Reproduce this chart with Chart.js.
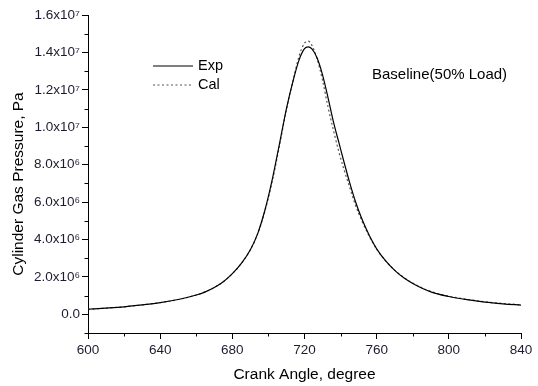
<!DOCTYPE html>
<html>
<head>
<meta charset="utf-8">
<script src="https://cdn.jsdelivr.net/npm/chart.js@4"></script>
<style>
html,body{margin:0;padding:0;background:#fff;}
canvas{display:block;}
</style>
</head>
<body>
<canvas id="c" width="538" height="386"></canvas>
<script>
// Crank angle (degree)
const angles = [600,610,620,630,640,650,660,665,670,675,680,685,690,694,698,702,706,710,714,717,720,722,724,727,730,733,736,739,742,745,748,752,756,760,765,770,775,780,790,800,810,820,830,840];
// Cylinder gas pressure, in MPa (converted to Pa below)
const expPressureMPa = [0.27,0.33,0.40,0.50,0.62,0.79,1.03,1.20,1.43,1.74,2.17,2.72,3.45,4.30,5.55,7.15,9.05,11.00,12.60,13.60,14.20,14.30,14.20,13.70,12.80,11.60,10.30,9.20,8.10,7.05,6.10,5.05,4.20,3.50,2.85,2.35,1.95,1.65,1.20,0.95,0.78,0.65,0.56,0.49];
const calPressureMPa = [0.27,0.33,0.40,0.50,0.62,0.79,1.03,1.20,1.43,1.74,2.17,2.72,3.45,4.30,5.50,7.05,8.95,10.95,12.65,13.80,14.50,14.60,14.40,13.65,12.50,11.10,9.85,8.70,7.70,6.80,5.90,4.95,4.15,3.48,2.85,2.36,1.97,1.67,1.22,0.97,0.80,0.67,0.58,0.51];
const seriesLabels = ['Exp','Cal'];
const xTickValues = [600,640,680,720,760,800,840];
const yTickValues = [0,2e6,4e6,6e6,8e6,1e7,1.2e7,1.4e7,1.6e7];
const yTickLabels = ['0.0','2.0x10\u2076','4.0x10\u2076','6.0x10\u2076','8.0x10\u2076','1.0x10\u2077','1.2x10\u2077','1.4x10\u2077','1.6x10\u2077'];
const xTitle = 'Crank Angle, degree';
const yTitle = 'Cylinder Gas Pressure, Pa';
const noteText = 'Baseline(50% Load)';

const toPoints = arr => angles.map((a,i) => ({x:a, y:arr[i]*1e6}));
const FONT = "'Liberation Sans', Arial, sans-serif";
const TXT = '#1c1c30';

const overlay = {
  id:'overlay',
  afterDraw(chart){
    const ctx = chart.ctx;
    const ca = chart.chartArea;
    ctx.save();
    // y title
    ctx.fillStyle = '#000';
    ctx.font = '15.5px ' + FONT;
    ctx.textAlign = 'center';
    ctx.textBaseline = 'middle';
    ctx.translate(19, 184);
    ctx.rotate(-Math.PI/2);
    ctx.fillText(yTitle, 0, 0);
    ctx.restore();
    // legend
    ctx.save();
    chart.data.datasets.forEach((ds, i) => {
      const y = 66 + i*19;
      ctx.strokeStyle = ds.borderColor;
      ctx.lineWidth = ds.borderWidth;
      ctx.setLineDash(ds.borderDash || []);
      ctx.beginPath();
      ctx.moveTo(153, y);
      ctx.lineTo(193, y);
      ctx.stroke();
      ctx.setLineDash([]);
      ctx.fillStyle = '#000';
      ctx.font = '14.5px ' + FONT;
      ctx.textAlign = 'left';
      ctx.textBaseline = 'middle';
      ctx.fillText(ds.label, 198, y);
    });
    // note
    ctx.fillStyle = '#000';
    ctx.font = '15px ' + FONT;
    ctx.textAlign = 'left';
    ctx.textBaseline = 'middle';
    ctx.fillText(noteText, 372, 75);
    ctx.restore();
    // minor ticks
    ctx.save();
    ctx.strokeStyle = '#000';
    ctx.lineWidth = 1;
    const xs = chart.scales.x, ys = chart.scales.y;
    for (let v = -1e6; v <= 1.6e7; v += 1e6) {
      if (yTickValues.includes(v)) continue;
      const py = Math.round(ys.getPixelForValue(v)) + 0.5;
      ctx.beginPath(); ctx.moveTo(ca.left - 3.5, py); ctx.lineTo(ca.left, py); ctx.stroke();
    }
    for (let v = 620; v < 840; v += 40) {
      const px = Math.round(xs.getPixelForValue(v)) + 0.5;
      ctx.beginPath(); ctx.moveTo(px, ca.bottom); ctx.lineTo(px, ca.bottom + 3.5); ctx.stroke();
    }
    ctx.restore();
  }
};

new Chart(document.getElementById('c'), {
  type:'line',
  data:{
    datasets:[
      {label:seriesLabels[0], data:toPoints(expPressureMPa), borderColor:'#000', borderWidth:1.2, pointRadius:0, cubicInterpolationMode:'monotone', fill:false},
      {label:seriesLabels[1], data:toPoints(calPressureMPa), borderColor:'#555', borderWidth:1.2, borderDash:[2,2.5], pointRadius:0, cubicInterpolationMode:'monotone', fill:false}
    ]
  },
  options:{
    responsive:false,
    animation:false,
    events:[],
    layout:{padding:{top:15,right:17,bottom:0,left:0}},
    plugins:{legend:{display:false}, tooltip:{enabled:false}},
    scales:{
      x:{
        type:'linear', min:600, max:840,
        afterBuildTicks(s){ s.ticks = xTickValues.map(v=>({value:v})); },
        afterFit(s){ s.height = 53; },
        ticks:{color:TXT, font:{family:FONT, size:13.5}, padding:3, maxRotation:0, autoSkip:false},
        grid:{drawOnChartArea:false, drawTicks:true, tickLength:6, color:'#000', tickColor:'#000'},
        border:{display:true, color:'#000', width:1},
        title:{display:true, text:xTitle, color:'#000', font:{family:FONT, size:15.5}, padding:{top:0, bottom:2}}
      },
      y:{
        type:'linear', min:-1e6, max:1.6e7,
        afterBuildTicks(s){ s.ticks = yTickValues.map(v=>({value:v})); },
        afterFit(s){ s.width = 88; },
        ticks:{color:TXT, font:{family:FONT, size:13.5}, padding:2, autoSkip:false,
          callback:(v)=>{ const i = yTickValues.indexOf(v); return i>=0 ? yTickLabels[i] : ''; }},
        grid:{drawOnChartArea:false, drawTicks:true, tickLength:6, color:'#000', tickColor:'#000'},
        border:{display:true, color:'#000', width:1}
      }
    }
  },
  plugins:[overlay]
});
</script>
</body>
</html>
